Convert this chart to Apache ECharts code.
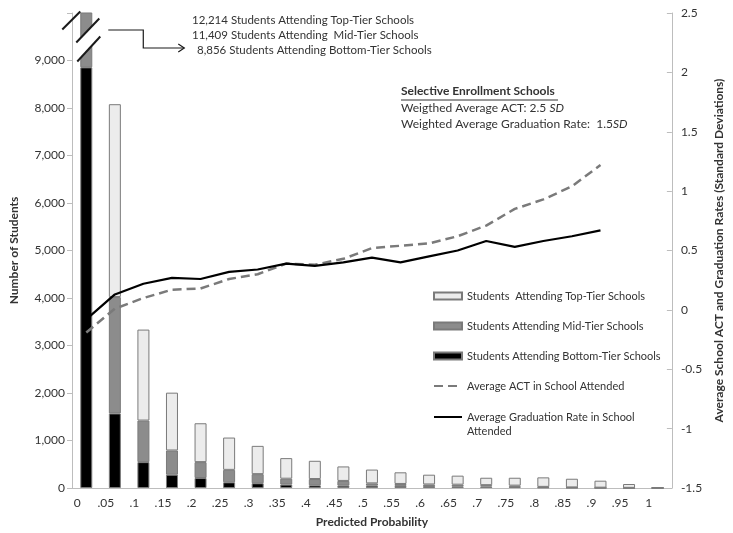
<!DOCTYPE html>
<html>
<head>
<meta charset="utf-8">
<script src="https://cdn.jsdelivr.net/npm/echarts@6/dist/echarts.min.js"></script>
<style>
  html, body { margin: 0; padding: 0; background: #ffffff; }
  #chart { width: 733px; height: 533px; }
</style>
</head>
<body>
<div id="chart"></div>
<script>
// Predicted probability bins (x categories)
const probLabels = ['0', '.05', '.1', '.15', '.2', '.25', '.3', '.35', '.4', '.45', '.5',
  '.55', '.6', '.65', '.7', '.75', '.8', '.85', '.9', '.95', '1'];

// Number of students per bin, by tier of school attended
const bottomTier = [8856, 1570, 545, 280, 210, 120, 100, 72, 56, 49, 49, 45, 40, 35, 30, 25, 12, 5, 2, 0, 0];
const midTier = [11409, 2450, 875, 510, 335, 262, 192, 124, 133, 100, 49, 40, 35, 35, 30, 25, 12, 8, 5, 3, 0];
const topTier = [12214, 4060, 1915, 1217, 818, 680, 595, 433, 384, 305, 290, 245, 205, 190, 156, 166, 200, 182, 147, 81, 12];

// Average school ACT and graduation rate (standard deviations)
const actLine = [-0.19, 0.01, 0.10, 0.17, 0.18, 0.26, 0.30, 0.39, 0.38, 0.43, 0.52,
  0.54, 0.56, 0.62, 0.71, 0.85, 0.93, 1.04, 1.22, null, null];
const gradLine = [-0.08, 0.13, 0.22, 0.27, 0.26, 0.32, 0.34, 0.39, 0.37, 0.40, 0.44,
  0.40, 0.45, 0.50, 0.58, 0.53, 0.58, 0.62, 0.67, null, null];

const FONT = 'Lato';
const AXIS_GRAY = '#bdbdbd';
const TEXT = '#333333';

const NAME_TOP = 'Students  Attending Top-Tier Schools';
const NAME_MID = 'Students Attending Mid-Tier Schools';
const NAME_BOT = 'Students Attending Bottom-Tier Schools';
const NAME_ACT = 'Average ACT in School Attended';
const NAME_GRAD = 'Average Graduation Rate in School Attended';

const chart = echarts.init(document.getElementById('chart'), null, { renderer: 'canvas' });

const barBorder = { borderColor: '#7a7a7a', borderWidth: 1 };
const legendText = { fontFamily: FONT, fontSize: 11, color: TEXT, lineHeight: 14 };
// line entries in the legend show only the stroke, no marker
const noMarker = { opacity: 0 };

const option = {
  animation: false,
  backgroundColor: '#ffffff',
  textStyle: { fontFamily: FONT },
  grid: { left: 72, right: 50, top: 13, bottom: 43 },
  legend: [
    {
      orient: 'vertical',
      left: 433,
      top: 289,
      padding: 0,
      itemWidth: 28,
      itemHeight: 7,
      itemGap: 16,
      data: [
        { name: NAME_TOP, icon: 'rect' },
        { name: NAME_MID, icon: 'rect' },
        { name: NAME_BOT, icon: 'rect' },
        { name: NAME_ACT, itemStyle: noMarker }
      ],
      textStyle: legendText
    },
    {
      orient: 'vertical',
      left: 433,
      top: 396,
      padding: 0,
      itemWidth: 28,
      itemHeight: 7,
      data: [{ name: NAME_GRAD, itemStyle: noMarker }],
      formatter: () => '\nAverage Graduation Rate in School\nAttended',
      textStyle: legendText
    }
  ],
  xAxis: {
    type: 'category',
    data: probLabels,
    boundaryGap: true,
    name: 'Predicted Probability',
    nameLocation: 'middle',
    nameGap: 28,
    nameTextStyle: { fontFamily: FONT, fontSize: 12, fontWeight: 'bold', color: TEXT },
    axisLine: { lineStyle: { color: AXIS_GRAY } },
    axisTick: { alignWithLabel: false, length: 5, lineStyle: { color: AXIS_GRAY } },
    axisLabel: {
      interval: 0,
      margin: 9,
      color: TEXT,
      fontSize: 12,
      fontFamily: FONT,
      formatter: v => '{s|' + v + '}',
      rich: { s: { padding: [0, 18, 0, 0], fontSize: 12, fontFamily: FONT, color: TEXT } }
    },
    splitLine: { show: false }
  },
  yAxis: [
    {
      type: 'value',
      min: 0,
      max: 10000,
      interval: 1000,
      name: 'Number of Students',
      nameLocation: 'middle',
      nameRotate: 90,
      nameGap: 52,
      nameTextStyle: { fontFamily: FONT, fontSize: 12, fontWeight: 'bold', color: TEXT },
      axisLine: { show: true, lineStyle: { color: AXIS_GRAY } },
      axisTick: { show: true, length: 5, lineStyle: { color: AXIS_GRAY } },
      axisLabel: {
        color: TEXT, fontSize: 12, fontFamily: FONT, margin: 7,
        formatter: v => (v >= 10000 ? '' : v.toLocaleString('en-US'))
      },
      splitLine: { show: false }
    },
    {
      type: 'value',
      min: -1.5,
      max: 2.5,
      interval: 0.5,
      position: 'right',
      name: 'Average School ACT and Graduation Rates (Standard Deviations)',
      nameLocation: 'middle',
      nameRotate: 90,
      nameGap: 35,
      nameTextStyle: { fontFamily: FONT, fontSize: 12, fontWeight: 'bold', color: TEXT },
      axisLine: { show: true, lineStyle: { color: AXIS_GRAY } },
      axisTick: { show: true, inside: true, length: 5, lineStyle: { color: AXIS_GRAY } },
      axisLabel: { color: TEXT, fontSize: 12, fontFamily: FONT, margin: 9, formatter: v => String(v) },
      splitLine: { show: false }
    }
  ],
  series: [
    {
      name: NAME_BOT, type: 'bar', stack: 'tiers', barWidth: 12, clip: true,
      itemStyle: Object.assign({ color: '#000000' }, barBorder),
      data: bottomTier
    },
    {
      name: NAME_MID, type: 'bar', stack: 'tiers', barWidth: 12, clip: true,
      itemStyle: Object.assign({ color: '#8c8c8c' }, barBorder),
      data: midTier
    },
    {
      name: NAME_TOP, type: 'bar', stack: 'tiers', barWidth: 12, clip: true,
      itemStyle: Object.assign({ color: '#ececec' }, barBorder),
      data: topTier
    },
    {
      name: NAME_ACT, type: 'line', yAxisIndex: 1, symbol: 'none', z: 5,
      lineStyle: { color: '#7a7a7a', width: 2.5, type: [9, 5] },
      itemStyle: { color: '#7a7a7a' },
      data: actLine
    },
    {
      name: NAME_GRAD, type: 'line', yAxisIndex: 1, symbol: 'none', z: 6,
      lineStyle: { color: '#000000', width: 2.2 },
      itemStyle: { color: '#000000' },
      data: gradLine
    }
  ]
};

chart.setOption(option);

// Axis break marks on the first (off-scale) bar, plus callout text
const p = chart.convertToPixel({ xAxisIndex: 0, yAxisIndex: 0 }, [0, 9000]);
const px = p[0], py = p[1];
const brk = { stroke: '#1a1a1a', lineWidth: 2 };
const note = '11.5px ' + FONT;

chart.setOption({
  graphic: [
    {
      type: 'polygon', z: 100, silent: true,
      shape: { points: [[px - 10, py - 18], [px + 13, py - 42], [px + 14, py - 24], [px - 9, py + 1]] },
      style: { fill: '#ffffff' }
    },
    { type: 'line', z: 101, silent: true, shape: { x1: px - 24, y1: py - 31, x2: px - 6, y2: py - 49 }, style: brk },
    { type: 'line', z: 101, silent: true, shape: { x1: px - 10, y1: py - 18, x2: px + 13, y2: py - 42 }, style: brk },
    { type: 'line', z: 101, silent: true, shape: { x1: px - 9, y1: py + 1, x2: px + 14, y2: py - 24 }, style: brk },
    // callout arrow
    {
      type: 'polyline', z: 101, silent: true,
      shape: { points: [[px + 22, 30], [px + 57, 30], [px + 57, 48], [px + 98, 48]] },
      style: { stroke: '#1a1a1a', lineWidth: 1.2, fill: null }
    },
    {
      type: 'polyline', z: 101, silent: true,
      shape: { points: [[px + 92, 44], [px + 98, 48], [px + 92, 52]] },
      style: { stroke: '#1a1a1a', lineWidth: 1.2, fill: null }
    },
    {
      type: 'text', z: 101, left: 192, top: 14,
      style: { text: '12,214 Students Attending Top-Tier Schools', font: note, fill: TEXT }
    },
    {
      type: 'text', z: 101, left: 192, top: 29,
      style: { text: '11,409 Students Attending  Mid-Tier Schools', font: note, fill: TEXT }
    },
    {
      type: 'text', z: 101, left: 197, top: 44,
      style: { text: '8,856 Students Attending Bottom-Tier Schools', font: note, fill: TEXT }
    },
    // selective enrollment summary
    {
      type: 'text', z: 101, left: 401, top: 85,
      style: { text: 'Selective Enrollment Schools', font: 'bold 12px ' + FONT, fill: TEXT }
    },
    {
      type: 'line', z: 101, silent: true,
      shape: { x1: 401, y1: 100, x2: 558, y2: 100 },
      style: { stroke: TEXT, lineWidth: 1 }
    },
    {
      type: 'text', z: 101, left: 401, top: 102,
      style: {
        text: '{n|Weigthed Average ACT: 2.5 }{i|SD}',
        rich: {
          n: { font: '12px ' + FONT, fill: TEXT },
          i: { font: 'italic 12px ' + FONT, fill: TEXT }
        }
      }
    },
    {
      type: 'text', z: 101, left: 401, top: 118,
      style: {
        text: '{n|Weighted Average Graduation Rate:  1.5}{i|SD}',
        rich: {
          n: { font: '12px ' + FONT, fill: TEXT },
          i: { font: 'italic 12px ' + FONT, fill: TEXT }
        }
      }
    }
  ]
});
</script>
</body>
</html>
